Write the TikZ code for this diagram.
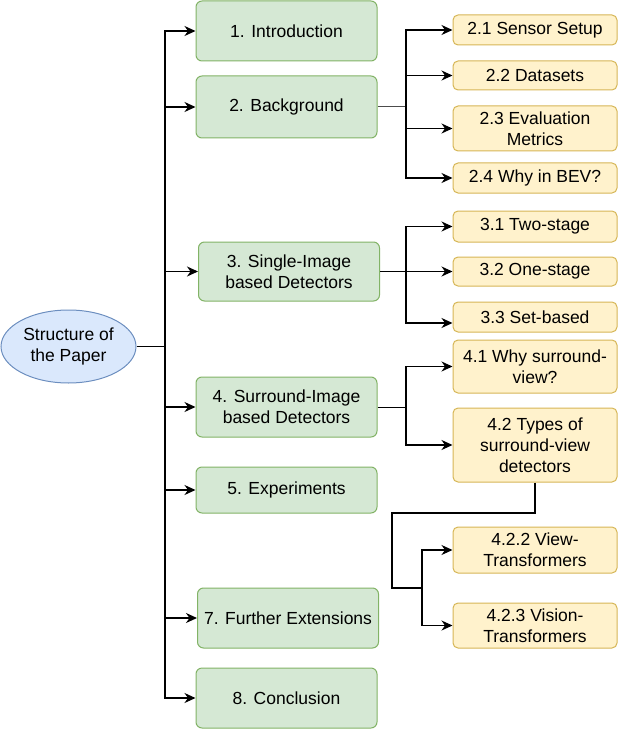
\documentclass[tikz,border=0pt]{standalone}
\usepackage{fontspec}
\setmainfont{Liberation Sans}
\usetikzlibrary{arrows.meta,shapes.geometric,calc}
\definecolor{gfill}{HTML}{D5E8D4}
\definecolor{gdraw}{HTML}{82B366}
\definecolor{ofill}{HTML}{FFF2CC}
\definecolor{odraw}{HTML}{D6B656}
\definecolor{bfill}{HTML}{DAE8FC}
\definecolor{bdraw}{HTML}{6C8EBF}
\tikzset{
  gbox/.style={draw=gdraw,fill=gfill,line width=1pt,rounded corners=6pt,minimum width=181pt,align=center,inner sep=0pt,font=\fontsize{17.5}{21}\selectfont},
  obox/.style={draw=odraw,fill=ofill,line width=1pt,rounded corners=5pt,minimum width=164pt,align=center,inner sep=0pt,font=\fontsize{17.5}{21}\selectfont},
  conn/.style={line width=1.3pt,black},
  arr/.style={conn,-{Stealth[length=11pt,width=10pt,inset=3.5pt]}},
}
\begin{document}
\begin{tikzpicture}[x=1pt,y=-1pt]
\useasboundingbox (0,0) rectangle (618,730);
% root
\node[ellipse,draw=bdraw,fill=bfill,line width=1pt,minimum width=135pt,minimum height=73pt,inner sep=0pt,align=center,font=\fontsize{17.5}{21}\selectfont] (root) at (68.5,346.5) {Structure of\\the Paper};
% green boxes
\node[gbox,minimum height=60pt] (intro) at (286.5,31) {1. Introduction};
\node[gbox,minimum height=62pt] (bg) at (286.5,107) {2. Background};
\node[gbox,minimum height=59pt] (single) at (289,271.5) {3. Single-Image\\based Detectors};
\node[gbox,minimum height=60pt] (surr) at (286.5,407) {4. Surround-Image\\based Detectors};
\node[gbox,minimum height=46pt] (exp) at (286.5,490) {5. Experiments};
\node[gbox,minimum height=60pt] (further) at (288,618) {7. Further Extensions};
\node[gbox,minimum height=60pt] (concl) at (286.5,698) {8. Conclusion};
% orange boxes
\node[obox,minimum height=30pt] (s21) at (535,30) {2.1 Sensor Setup};
\node[obox,minimum height=29pt] (s22) at (535,75.5) {2.2 Datasets};
\node[obox,minimum height=45pt] (s23) at (535,128.5) {2.3 Evaluation\\Metrics};
\node[obox,minimum height=30pt] (s24) at (535,178) {2.4 Why in BEV?};
\node[obox,minimum height=31pt] (s31) at (535,226.5) {3.1 Two-stage};
\node[obox,minimum height=29pt] (s32) at (535,271.5) {3.2 One-stage};
\node[obox,minimum height=30pt] (s33) at (535,317) {3.3 Set-based};
\node[obox,minimum height=53pt] (s41) at (535,366.5) {4.1 Why surround-\\view?};
\node[obox,minimum height=74pt] (s42) at (535,445) {4.2 Types of\\surround-view\\detectors};
\node[obox,minimum height=46pt] (s422) at (535,550) {4.2.2 View-\\Transformers};
\node[obox,minimum height=45pt] (s423) at (535,625.5) {4.2.3 Vision-\\Transformers};
% trunk
\coordinate (t) at (165,346.5);
\draw[conn] (root.east) -- (t);
\foreach \n in {intro,bg,single,surr,exp,further,concl}{
  \draw[arr] (t) |- (\n.west);
}
% background branch
\coordinate (b2) at (406,107);
\draw[line width=1pt,black!70] (bg.east) -- (b2);
\foreach \n in {s21,s22,s23,s24}{\draw[arr] (b2) |- (\n.west);}
% single branch
\coordinate (b3) at (406,271.5);
\draw[line width=1pt] (single.east) -- (b3);
\draw[arr] (b3) |- (s31.west);
\draw[arr] (b3) |- (s32.west);
\draw[arr] (b3) |- ($(s33.west)+(0,6)$);
% surround branch
\coordinate (b4) at (406,407);
\draw[line width=1pt] (surr.east) -- (b4);
\draw[arr] (b4) |- (s41.west);
\draw[arr] (b4) |- (s42.west);
% 4.2 sub branch
\coordinate (c1) at (535,513);
\coordinate (c2) at (392,513);
\coordinate (c3) at (392,588);
\coordinate (c4) at (422,588);
\draw[conn] (s42.south) -- (c1) -- (c2) -- (c3) -- (c4);
\draw[arr] (c4) |- (s422.west);
\draw[arr] (c4) |- (s423.west);
\end{tikzpicture}
\end{document}
